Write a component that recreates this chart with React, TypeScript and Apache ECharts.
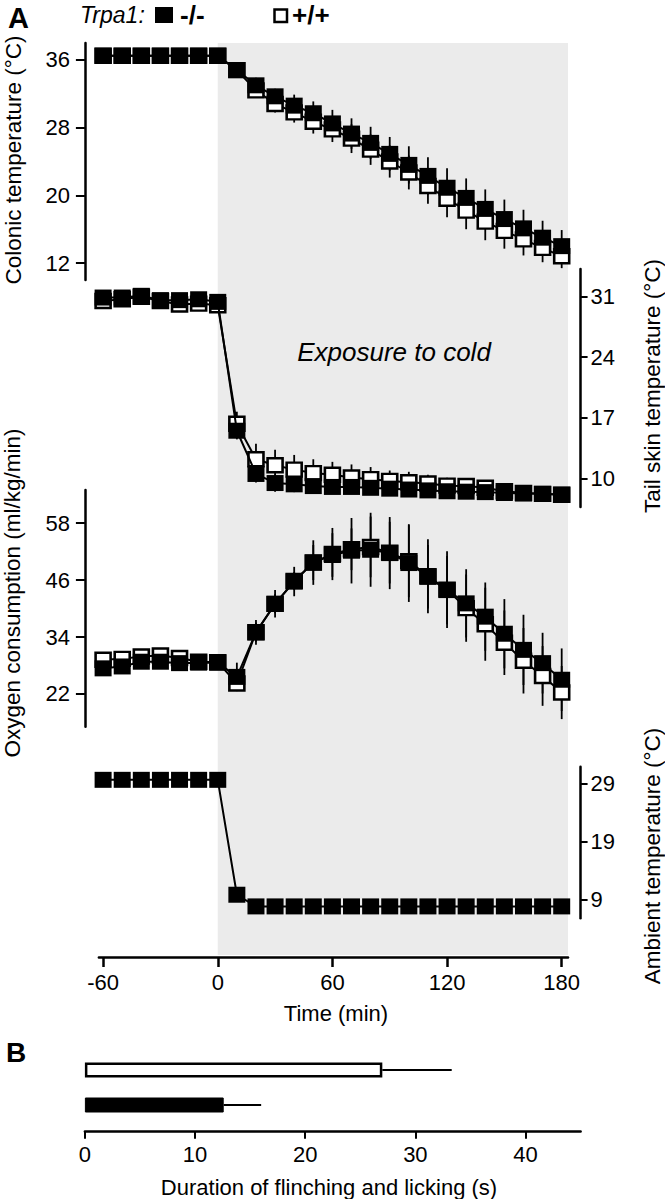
import React, { useEffect, useRef } from "react";
import * as echarts from "echarts";

// ---------- data ----------
const times = [-60, -50, -40, -30, -20, -10, 0, 10, 20, 30, 40, 50, 60, 70, 80, 90, 100, 110, 120, 130, 140, 150, 160, 170, 180];

// Colonic temperature (°C)
const colonicKO = [36.5, 36.5, 36.5, 36.5, 36.5, 36.5, 36.5, 34.8, 33.0, 31.7, 30.6, 29.7, 28.5, 27.3, 26.2, 24.9, 23.6, 22.3, 20.9, 19.7, 18.4, 17.2, 16.1, 15.0, 14.0];
const colonicKOErr = [0.2, 0.2, 0.2, 0.2, 0.2, 0.2, 0.2, 0.6, 0.9, 0.9, 1.3, 1.4, 1.6, 1.8, 1.9, 2.0, 2.2, 2.2, 2.3, 2.3, 2.3, 2.3, 2.2, 2.0, 1.9];
const colonicWT = [36.5, 36.5, 36.5, 36.5, 36.5, 36.5, 36.5, 34.8, 32.4, 30.8, 29.8, 28.7, 27.8, 26.7, 25.4, 24.0, 22.7, 21.1, 19.6, 18.2, 16.9, 15.8, 14.8, 13.8, 12.8];
const colonicWTErr = [0.2, 0.2, 0.2, 0.2, 0.2, 0.2, 0.2, 0.5, 0.8, 1.0, 1.2, 1.4, 1.5, 1.7, 1.8, 1.9, 2.0, 2.1, 2.2, 2.2, 2.2, 2.1, 1.9, 1.7, 1.4];

// Tail skin temperature (°C)
const tailKO = [30.9, 30.9, 31.1, 30.6, 30.6, 30.7, 30.4, 15.5, 10.5, 9.45, 9.3, 9.1, 9.0, 9.0, 8.9, 8.8, 8.7, 8.6, 8.5, 8.45, 8.4, 8.3, 8.25, 8.2, 8.1];
const tailKOErr = [0.4, 0.4, 0.4, 0.4, 0.4, 0.4, 0.4, 1.0, 1.0, 1.0, 0.9, 0.9, 0.8, 0.8, 0.8, 0.7, 0.7, 0.7, 0.6, 0.6, 0.6, 0.6, 0.5, 0.5, 0.5];
const tailWT = [30.5, 30.7, 31.0, 30.5, 30.1, 30.2, 30.0, 16.3, 12.2, 11.5, 11.0, 10.6, 10.4, 10.1, 9.9, 9.7, 9.55, 9.4, 9.15, 9.1, 8.9, 8.5, 8.3, 8.2, 8.1];
const tailWTErr = [0.4, 0.4, 0.5, 0.4, 0.4, 0.4, 0.4, 1.4, 1.8, 1.8, 1.7, 1.6, 1.5, 1.5, 1.4, 1.2, 1.2, 1.0, 0.9, 0.8, 0.7, 0.6, 0.5, 0.5, 0.5];

// Oxygen consumption (ml/kg/min)
const oxyKO = [27.4, 27.8, 28.8, 28.8, 28.5, 28.6, 28.6, 25.6, 35.0, 41.0, 45.7, 49.7, 51.3, 52.2, 52.4, 51.7, 49.6, 46.7, 43.9, 41.1, 38.3, 34.7, 31.3, 28.5, 25.0];
const oxyKOErr = [0.8, 0.8, 0.8, 0.8, 0.8, 0.8, 0.8, 3.0, 2.6, 2.9, 3.1, 3.7, 4.6, 6.9, 7.8, 7.6, 8.2, 6.7, 7.2, 7.2, 7.2, 7.3, 7.4, 6.4, 6.6];
const oxyWT = [29.2, 29.4, 29.9, 30.1, 29.6, 28.8, 28.7, 24.2, 35.0, 41.0, 45.8, 49.7, 51.5, 52.5, 53.0, 51.8, 50.0, 46.8, 44.0, 40.1, 36.7, 32.8, 29.0, 25.8, 22.3];
const oxyWTErr = [0.8, 0.8, 0.8, 0.8, 0.8, 0.8, 0.8, 1.0, 2.0, 2.0, 1.9, 4.7, 5.5, 4.4, 6.4, 6.5, 7.6, 7.8, 8.1, 7.1, 7.7, 6.8, 6.9, 6.3, 5.6];

// Ambient temperature (°C)
const ambient = [29.6, 29.6, 29.6, 29.6, 29.6, 29.6, 29.6, 9.9, 7.9, 7.9, 7.9, 7.9, 7.9, 7.9, 7.9, 7.9, 7.9, 7.9, 7.9, 7.9, 7.9, 7.9, 7.9, 7.9, 7.9];

// Tick labels
const timeTicks = [-60, 0, 60, 120, 180];
const colonicTicks = [12, 20, 28, 36];
const tailTicks = [10, 17, 24, 31];
const oxyTicks = [22, 34, 46, 58];
const ambientTicks = [9, 19, 29];
const durationTicks = [0, 10, 20, 30, 40];

// Exposure window (min)
const exposure = [0, 183.3];

// Panel B
const genotypes = ["-/-", "+/+"];
const durationMean = [12.6, 27.0];
const durationErr = [3.4, 6.3];

// ---------- layout ----------
const FONT = "'Liberation Sans', Arial, Helvetica, sans-serif";
const X_MIN = -62.2;
const X_MAX = 183.3;
const PL = 98.9;
const PR = 665 - 568;

function yAxisCfg(gridIndex: number, min: number, max: number, ticks: number[], position: string, offset: number) {
  const left = position === "left";
  return {
    type: "value",
    gridIndex,
    min,
    max,
    position,
    offset,
    axisLine: { show: true, onZero: false, lineStyle: { color: "#000", width: 2.5 } },
    axisTick: { show: true, length: left ? 9 : 7, lineStyle: { color: "#000", width: 2 }, customValues: ticks },
    axisLabel: { show: true, color: "#000", fontSize: 22, fontFamily: FONT, margin: left ? 15 : 10, customValues: ticks },
    splitLine: { show: false },
  };
}

function hiddenX(gridIndex: number) {
  return { type: "value", gridIndex, min: X_MIN, max: X_MAX, show: false, axisLine: { onZero: false }, splitLine: { show: false } };
}

function errSeries(idx: number, vals: number[], errs: number[], z: number) {
  return {
    type: "custom",
    xAxisIndex: idx,
    yAxisIndex: idx,
    z,
    silent: true,
    data: times.map((t, i) => [t, vals[i] - errs[i], vals[i] + errs[i]]),
    encode: { x: 0, y: [1, 2] },
    renderItem: (_p: any, api: any) => {
      const lo = api.coord([api.value(0), api.value(1)]);
      const hi = api.coord([api.value(0), api.value(2)]);
      return {
        type: "line",
        shape: { x1: lo[0], y1: lo[1], x2: hi[0], y2: hi[1] },
        style: { stroke: "#000", lineWidth: 1.8 },
      };
    },
  };
}

function lineSeries(idx: number, vals: number[], open: boolean, z: number) {
  return {
    type: "line",
    xAxisIndex: idx,
    yAxisIndex: idx,
    z,
    silent: true,
    data: times.map((t, i) => [t, vals[i]]),
    symbol: "rect",
    symbolSize: open ? [15, 14] : [17, 16],
    showAllSymbol: true,
    lineStyle: { color: "#000", width: 2 },
    itemStyle: open ? { color: "#fff", borderColor: "#000", borderWidth: 2.5 } : { color: "#000", borderWidth: 0 },
  };
}

function txt(text: string, x: number, y: number, size: number, opts: any = {}) {
  return {
    type: "text",
    x,
    y,
    rotation: opts.rotation || 0,
    silent: true,
    z: 100,
    style: {
      text,
      fill: "#000",
      fontSize: size,
      fontFamily: FONT,
      fontStyle: opts.italic ? "italic" : "normal",
      fontWeight: opts.bold ? "bold" : "normal",
      align: opts.align || "center",
      verticalAlign: "middle",
      textAlign: opts.align || "center",
      textVerticalAlign: "middle",
    },
  };
}

export default function App() {
  const ref = useRef<HTMLDivElement>(null);

  useEffect(() => {
    if (!ref.current) return;
    const chart = echarts.init(ref.current, undefined, { renderer: "svg" });

    const option: any = {
      animation: false,
      backgroundColor: "#fff",
      grid: [
        { left: PL, right: PR, top: 43, height: 914 },
        { left: PL, right: PR, top: 43, height: 237 },
        { left: PL, right: PR, top: 269, height: 238 },
        { left: PL, right: PR, top: 490, height: 236.7 },
        { left: PL, right: PR, top: 766.7, height: 151.6 },
        { left: 84.9, right: 665 - 580.6, top: 1052.5, height: 70 },
      ],
      xAxis: [
        {
          type: "value",
          gridIndex: 0,
          min: X_MIN,
          max: X_MAX,
          position: "bottom",
          axisLine: { show: true, onZero: false, lineStyle: { color: "#000", width: 2.5 } },
          axisTick: { show: true, length: 10, lineStyle: { color: "#000", width: 2.5 }, customValues: timeTicks },
          axisLabel: { color: "#000", fontSize: 22, fontFamily: FONT, margin: 14, customValues: timeTicks },
          splitLine: { show: false },
        },
        hiddenX(1),
        hiddenX(2),
        hiddenX(3),
        hiddenX(4),
        {
          type: "value",
          gridIndex: 5,
          min: 0,
          max: 45,
          interval: 10,
          position: "bottom",
          offset: 9.2,
          axisLine: { show: true, onZero: false, lineStyle: { color: "#000", width: 2.5 } },
          axisTick: { show: true, length: 7, lineStyle: { color: "#000", width: 2 }, customValues: durationTicks },
          axisLabel: { color: "#000", fontSize: 22, fontFamily: FONT, margin: 12, customValues: durationTicks },
          splitLine: { show: false },
        },
      ],
      yAxis: [
        { type: "value", gridIndex: 0, min: 0, max: 1, show: false, splitLine: { show: false } },
        yAxisCfg(1, 10, 38, colonicTicks, "left", 14),
        yAxisCfg(2, 6.68, 34.2, tailTicks, "right", 12.6),
        yAxisCfg(3, 15.1, 65.0, oxyTicks, "left", 14),
        yAxisCfg(4, 5.86, 31.85, ambientTicks, "right", 12.6),
        { type: "category", gridIndex: 5, data: genotypes, show: false, axisLine: { onZero: false } },
      ],
      series: [
        {
          type: "custom",
          xAxisIndex: 0,
          yAxisIndex: 0,
          z: 0,
          silent: true,
          data: [[exposure[0], exposure[1]]],
          encode: { x: [0, 1] },
          renderItem: (_p: any, api: any) => {
            const a = api.coord([api.value(0), 1]);
            const b = api.coord([api.value(1), 0]);
            return {
              type: "rect",
              shape: { x: a[0], y: a[1], width: b[0] - a[0], height: b[1] - a[1] - 2 },
              style: { fill: "#ebebeb" },
            };
          },
        },
        // colonic
        errSeries(1, colonicWT, colonicWTErr, 2),
        errSeries(1, colonicKO, colonicKOErr, 2),
        lineSeries(1, colonicWT, true, 3),
        lineSeries(1, colonicKO, false, 4),
        // tail
        errSeries(2, tailWT, tailWTErr, 2),
        errSeries(2, tailKO, tailKOErr, 2),
        lineSeries(2, tailWT, true, 3),
        lineSeries(2, tailKO, false, 4),
        // oxygen
        errSeries(3, oxyWT, oxyWTErr, 2),
        errSeries(3, oxyKO, oxyKOErr, 2),
        lineSeries(3, oxyWT, true, 3),
        lineSeries(3, oxyKO, false, 4),
        // ambient
        lineSeries(4, ambient, false, 4),
        // panel B
        {
          type: "custom",
          xAxisIndex: 5,
          yAxisIndex: 5,
          z: 2,
          silent: true,
          data: durationMean.map((m, i) => [m, i, m + durationErr[i]]),
          encode: { x: [0, 2], y: 1 },
          renderItem: (_p: any, api: any) => {
            const a = api.coord([api.value(0), api.value(1)]);
            const b = api.coord([api.value(2), api.value(1)]);
            return {
              type: "line",
              shape: { x1: a[0], y1: a[1], x2: b[0], y2: b[1] },
              style: { stroke: "#000", lineWidth: 2 },
            };
          },
        },
        {
          type: "bar",
          xAxisIndex: 5,
          yAxisIndex: 5,
          z: 3,
          silent: true,
          barWidth: 15,
          data: durationMean.map((m, i) => ({
            value: m,
            itemStyle: i === 0
              ? { color: "#000", borderColor: "#000", borderWidth: 1 }
              : { color: "#fff", borderColor: "#000", borderWidth: 2.5 },
          })),
        },
      ],
      graphic: [
        txt("A", 8, 17.5, 29, { bold: true, align: "left" }),
        txt("Trpa1:", 80, 15, 23, { italic: true, align: "left" }),
        { type: "rect", shape: { x: 155, y: 7, width: 18, height: 16 }, style: { fill: "#000" }, silent: true },
        txt("-/-", 180, 15, 26, { bold: true, align: "left" }),
        { type: "rect", shape: { x: 274.5, y: 9.5, width: 12.5, height: 12.5 }, style: { fill: "#fff", stroke: "#000", lineWidth: 2.5 }, silent: true },
        txt("+/+", 292, 15, 26, { bold: true, align: "left" }),
        txt("Exposure to cold", 394, 352, 26, { italic: true }),
        txt("Colonic temperature (°C)", 13, 160, 22.5, { rotation: Math.PI / 2 }),
        txt("Oxygen consumption (ml/kg/min)", 12.5, 593, 22.5, { rotation: Math.PI / 2 }),
        txt("Tail skin temperature (°C)", 652, 386, 22.5, { rotation: Math.PI / 2 }),
        txt("Ambient temperature (°C)", 652, 856, 22.5, { rotation: Math.PI / 2 }),
        txt("Time (min)", 336, 1013, 22),
        txt("B", 6, 1052, 28, { bold: true, align: "left" }),
        txt("Duration of flinching and licking (s)", 329, 1187, 22),
      ],
    };

    chart.setOption(option);
    return () => {
      chart.dispose();
    };
  }, []);

  return (
    <div
      ref={ref}
      style={{ position: "absolute", left: 0, top: 0, width: 665, height: 1199, background: "#fff" }}
    />
  );
}
